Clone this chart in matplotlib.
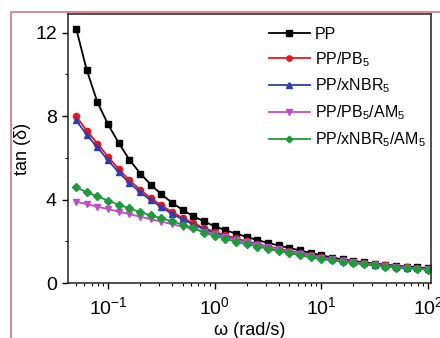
import numpy as np
import matplotlib
matplotlib.use('Agg')
import matplotlib.pyplot as plt
from matplotlib.lines import Line2D

plt.rcParams['font.family'] = ['Liberation Sans', 'DejaVu Sans']
plt.rcParams['mathtext.default'] = 'regular'

# frequencias (rad/s), 10 pontos por decada
omega = [0.0501, 0.0631, 0.0794, 0.1, 0.126, 0.158, 0.2, 0.251, 0.316, 0.398,
         0.501, 0.631, 0.794, 1.0, 1.26, 1.58, 2.0, 2.51, 3.16, 3.98,
         5.01, 6.31, 7.94, 10.0, 12.6, 15.8, 20.0, 25.1, 31.6, 39.8,
         50.1, 63.1, 79.4, 100.0]

tan_pp = [12.2, 10.2, 8.66, 7.6, 6.7, 5.92, 5.25, 4.72, 4.25, 3.85,
          3.5, 3.2, 2.95, 2.72, 2.53, 2.37, 2.21, 2.06, 1.92, 1.8,
          1.68, 1.56, 1.44, 1.33, 1.22, 1.13, 1.06, 0.99, 0.93, 0.88,
          0.83, 0.79, 0.75, 0.71]
tan_pb = [8.0, 7.3, 6.68, 6.05, 5.45, 4.93, 4.47, 4.07, 3.72, 3.4,
          3.12, 2.87, 2.64, 2.45, 2.29, 2.14, 2.0, 1.87, 1.75, 1.64,
          1.53, 1.43, 1.33, 1.24, 1.15, 1.08, 1.01, 0.95, 0.89, 0.84,
          0.79, 0.75, 0.71, 0.68]
tan_nbr = [7.8, 7.1, 6.5, 5.88, 5.3, 4.8, 4.35, 3.97, 3.63, 3.32,
           3.05, 2.8, 2.58, 2.4, 2.25, 2.1, 1.97, 1.85, 1.73, 1.62,
           1.52, 1.42, 1.32, 1.23, 1.14, 1.07, 1.0, 0.94, 0.88, 0.83,
           0.78, 0.74, 0.7, 0.67]
tan_pb_am = [3.9, 3.78, 3.66, 3.54, 3.42, 3.3, 3.18, 3.06, 2.94, 2.82,
             2.7, 2.58, 2.46, 2.34, 2.2, 2.07, 1.95, 1.83, 1.72, 1.61,
             1.5, 1.4, 1.3, 1.21, 1.13, 1.06, 0.99, 0.93, 0.87, 0.82,
             0.77, 0.73, 0.69, 0.66]
tan_nbr_am = [4.59, 4.35, 4.15, 3.95, 3.75, 3.58, 3.4, 3.24, 3.1, 2.95,
              2.8, 2.64, 2.42, 2.26, 2.12, 1.98, 1.86, 1.75, 1.64, 1.53,
              1.43, 1.33, 1.23, 1.15, 1.08, 1.01, 0.95, 0.89, 0.84, 0.79,
              0.74, 0.7, 0.67, 0.64]

series = [
    ("PP", tan_pp, "#000000", "s"),
    ("PP/PB$_5$", tan_pb, "#e8161b", "o"),
    ("PP/xNBR$_5$", tan_nbr, "#2a3db5", "^"),
    ("PP/PB$_5$/AM$_5$", tan_pb_am, "#c04dc8", "v"),
    ("PP/xNBR$_5$/AM$_5$", tan_nbr_am, "#1f9a3c", "D"),
]

fig = plt.figure(figsize=(4.4, 3.38), dpi=100)
ax = fig.add_axes([0.1545, 0.1627, 0.825, 0.796])

for label, vals, color, mk in series:
    ms = 4.5 if mk != "D" else 3.9
    ax.plot(omega, vals, color=color, marker=mk, markersize=ms, lw=1.3, label=label)

ax.set_xscale('log')
ax.set_xlim(0.042, 106.7)
ax.set_ylim(0, 12.9)
ax.set_yticks([0, 4, 8, 12])
ax.set_yticks([2, 6, 10], minor=True)

ax.tick_params(which='major', direction='out', length=4.5, width=1, labelsize=14)
ax.tick_params(axis='x', which='major', pad=5)
ax.tick_params(which='minor', direction='out', length=2.5, width=0.8)
for s in ax.spines.values():
    s.set_linewidth(1.1)
    s.set_color('#222222')

ax.set_ylabel("tan (δ)", fontsize=13, labelpad=3)
ax.set_xlabel("ω (rad/s)", fontsize=13, labelpad=3)

ax.legend(loc='upper left', bbox_to_anchor=(0.535, 0.975), frameon=False,
          fontsize=11.5, handlelength=2.6, handletextpad=0.3, labelspacing=0.5,
          borderaxespad=0, markerscale=0.85)

# moldura vermelha da figura original (esquerda e topo)
fig.add_artist(Line2D([11/440, 11/440, 1.0], [0.0, 1 - 12/338, 1 - 12/338],
                      transform=fig.transFigure, color='#d27580', lw=1.2))

plt.savefig("out.png", dpi=100)
plt.close(fig)
